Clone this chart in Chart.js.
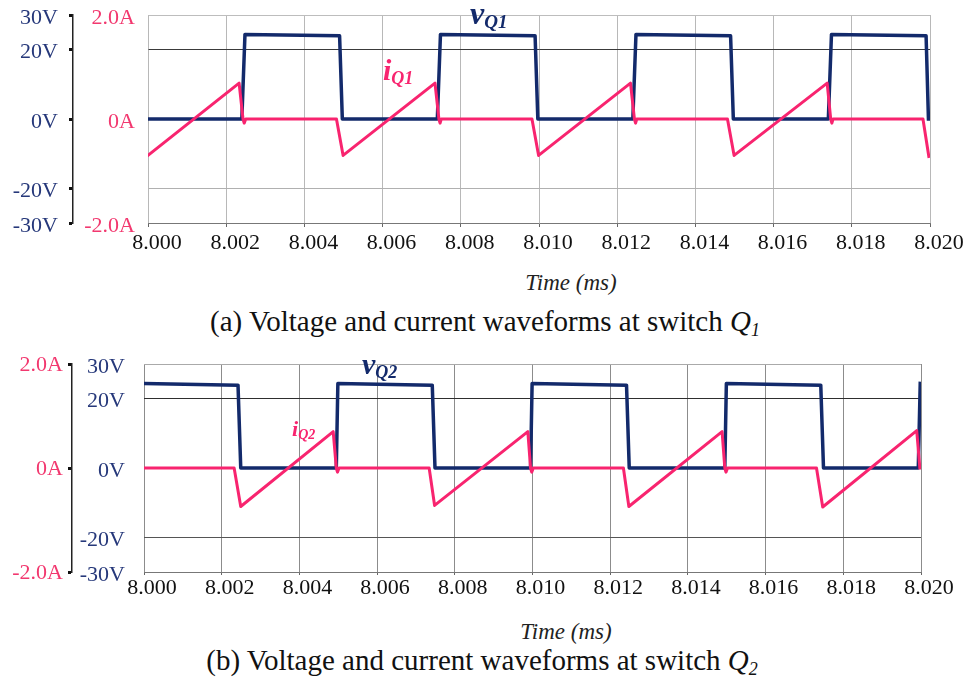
<!DOCTYPE html>
<html>
<head>
<meta charset="utf-8">
<script src="https://cdn.jsdelivr.net/npm/chart.js@4.4.0/dist/chart.umd.min.js"></script>
<style>
    body { margin: 0; background: #fff; }
    #page { position: relative; width: 969px; height: 681px; background: #fff; overflow: hidden; font-family: 'Liberation Serif', 'Times New Roman', serif; }
    canvas { position: absolute; left: 0; }
    .txt { position: absolute; white-space: nowrap; line-height: 1; transform: translate(-50%, -50%); color: #111; font-family: 'Liberation Serif', serif; }
    .axis-title { font-size: 23px; font-style: italic; color: #222; }
    .caption { font-size: 29px; color: #111; }
    .caption sub { font-size: 18px; vertical-align: -5px; }
    .series { position: absolute; white-space: nowrap; line-height: 1; font-weight: bold; font-style: italic; font-family: 'Liberation Serif', serif; }
    .series sub { vertical-align: -4px; }
</style>
</head>
<body>
<div id="page">
    <canvas id="chartQ1" width="969" height="260" style="top:0px"></canvas>
    <canvas id="chartQ2" width="969" height="260" style="top:340px"></canvas>

    <div class="series" style="left:470px; top:-3px; color:#132a6b; font-size:32px;">v<sub style="font-size:19px;">Q1</sub></div>
    <div class="series" style="left:383px; top:55px; color:#f8246f; font-size:30px;">i<sub style="font-size:18px;">Q1</sub></div>
    <div class="series" style="left:362px; top:349px; color:#132a6b; font-size:30px;">v<sub style="font-size:18px;">Q2</sub></div>
    <div class="series" style="left:292px; top:418px; color:#f8246f; font-size:22px;">i<sub style="font-size:14px; vertical-align:-3px;">Q2</sub></div>

    <div class="txt axis-title" style="left:571px; top:282px;">Time (ms)</div>
    <div class="txt caption" style="left:485px; top:323px;">(a) Voltage and current waveforms at switch <i>Q<sub>1</sub></i></div>
    <div class="txt axis-title" style="left:566px; top:631px;">Time (ms)</div>
    <div class="txt caption" style="left:482px; top:662px;">(b) Voltage and current waveforms at switch <i>Q<sub>2</sub></i></div>
</div>

<script>
// Axis ticks
const timeTicks = [8.000, 8.002, 8.004, 8.006, 8.008, 8.010, 8.012, 8.014, 8.016, 8.018, 8.020];
const voltTicks = [-30, -20, 0, 20, 30];
const ampTicks = [-2, 0, 2];

// Switch Q1 waveforms (time in ms)
const vQ1Time = [8.0000, 8.0024, 8.00248, 8.0049, 8.00497, 8.0074, 8.00748, 8.0099, 8.00997,
    8.0124, 8.01248, 8.0149, 8.01497, 8.0174, 8.01748, 8.0199, 8.01996];
const vQ1Volts = [0, 0, 24.4, 24.0, 0, 0, 24.4, 24.0, 0,
    0, 24.4, 24.0, 0, 0, 24.4, 24.0, 0];

const iQ1Time = [8.0000, 8.00233, 8.00243, 8.00246, 8.0025, 8.00482, 8.00499,
    8.00734, 8.00744, 8.00747, 8.0075, 8.00982, 8.00999,
    8.01234, 8.01244, 8.01247, 8.0125, 8.01482, 8.01499,
    8.01737, 8.01746, 8.01749, 8.01752, 8.01982, 8.01997];
const iQ1Amps = [-0.70, 0.69, 0.0, -0.08, 0.0, 0.0, -0.70,
    0.69, 0.0, -0.08, 0.0, 0.0, -0.70,
    0.69, 0.0, -0.08, 0.0, 0.0, -0.70,
    0.69, 0.0, -0.08, 0.0, 0.0, -0.72];

// Switch Q2 waveforms
const vQ2Time = [8.0000, 8.00242, 8.00249, 8.00495, 8.00499, 8.00742, 8.00749, 8.00995, 8.00999,
    8.01242, 8.01249, 8.01495, 8.01499, 8.01742, 8.01749, 8.01993, 8.01998];
const vQ2Volts = [24.4, 23.9, 0, 0, 24.4, 23.9, 0, 0, 24.4,
    23.9, 0, 0, 24.4, 23.9, 0, 0, 24.4];

const iQ2Time = [8.0000, 8.00232, 8.00249, 8.00487, 8.00495, 8.00498, 8.00502,
    8.00734, 8.00748, 8.00988, 8.00995, 8.00998, 8.01002,
    8.01234, 8.01248, 8.01488, 8.01495, 8.01498, 8.01502,
    8.01731, 8.01747, 8.01989, 8.01997];
const iQ2Amps = [0.0, 0.0, -0.74, 0.70, 0.0, -0.08, 0.0,
    0.0, -0.72, 0.70, 0.0, -0.08, 0.0,
    0.0, -0.74, 0.70, 0.0, -0.08, 0.0,
    0.0, -0.75, 0.72, 0.0];

// Colours
const NAVY = '#132a6b';
const PINK = '#f8246f';
const NAVY_TEXT = '#26387a';
const PINK_TEXT = '#f2386f';
const SERIF = "'Liberation Serif', 'Times New Roman', serif";
const TICK_FONT = { family: SERIF, size: 22 };

function toPoints(times, values) {
    return times.map((t, i) => ({ x: t, y: values[i] }));
}

function setTicks(list) {
    return scale => { scale.ticks = list.map(v => ({ value: v })); };
}

// fixed axis width, and no extra room asked for the end labels
function fixWidth(w) {
    return scale => {
        scale.width = w;
        scale.paddingTop = 0;
        scale.paddingBottom = 0;
    };
}

function voltLabel(v) { return v + 'V'; }
function ampLabel(v) { return v === 0 ? '0A' : v.toFixed(1) + 'A'; }

function lineDataset(points, color, axis, width) {
    return {
        data: points,
        borderColor: color,
        backgroundColor: color,
        borderWidth: width,
        pointRadius: 0,
        tension: 0,
        fill: false,
        yAxisID: axis,
        borderJoinStyle: 'round'
    };
}

function xScale(opts) {
    return {
        type: 'linear',
        min: 8.000,
        max: 8.020,
        afterBuildTicks: setTicks(timeTicks),
        afterFit: scale => { scale.height = opts.height; },
        ticks: {
            callback: v => v.toFixed(3),
            font: TICK_FONT,
            color: '#111',
            labelOffset: opts.labelOffset,
            padding: opts.padding,
            maxRotation: 0,
            autoSkip: false
        },
        grid: { color: opts.gridColor, tickColor: '#666', tickLength: opts.tickLength, lineWidth: 1 },
        border: { color: '#777', width: 1 }
    };
}

// Horizontal grid colour per voltage level
function voltGrid(colors) {
    return ctx => {
        const v = ctx.tick ? ctx.tick.value : null;
        if (v === 20) return colors.upper;
        if (v === -20) return colors.lower;
        if (v === 30) return colors.top;
        return 'rgba(0,0,0,0)';
    };
}

const baseOptions = {
    responsive: false,
    animation: false,
    devicePixelRatio: 1,
    plugins: { legend: { display: false }, tooltip: { enabled: false } },
    elements: { line: { borderCapStyle: 'square' } }
};

function drawCharts() {
    Chart.defaults.font.family = SERIF;

    // Chart (a): voltage axis outside, current axis inside
    new Chart(document.getElementById('chartQ1'), {
        type: 'line',
        data: {
            datasets: [
                lineDataset(toPoints(iQ1Time, iQ1Amps), PINK, 'amp', 3),
                lineDataset(toPoints(vQ1Time, vQ1Volts), NAVY, 'volt', 3.5)
            ]
        },
        options: {
            ...baseOptions,
            layout: { padding: { top: 15, right: 39, left: 0, bottom: 0 } },
            scales: {
                x: xScale({ height: 37, labelOffset: 9, padding: 3, tickLength: 4, gridColor: '#b8b8b8' }),
                volt: {
                    position: 'left',
                    weight: 2,
                    min: -30,
                    max: 30,
                    afterBuildTicks: setTicks(voltTicks),
                    afterFit: fixWidth(73),
                    ticks: { callback: voltLabel, font: TICK_FONT, color: NAVY_TEXT, padding: 11, labelOffset: 3 },
                    grid: {
                        color: voltGrid({ upper: '#3a3a3a', lower: '#b0b0b0', top: '#bdbdbd' }),
                        tickColor: '#111',
                        tickLength: 4,
                        tickWidth: 3
                    },
                    border: { display: true, color: '#222', width: 1.5 }
                },
                amp: {
                    position: 'left',
                    weight: 1,
                    min: -2,
                    max: 2,
                    afterBuildTicks: setTicks(ampTicks),
                    afterFit: fixWidth(75),
                    ticks: { callback: ampLabel, font: TICK_FONT, color: PINK_TEXT, padding: 13, labelOffset: 3 },
                    grid: { display: false, drawTicks: false },
                    border: { display: false }
                }
            }
        }
    });

    // Chart (b): current axis outside, voltage axis inside
    new Chart(document.getElementById('chartQ2'), {
        type: 'line',
        data: {
            datasets: [
                lineDataset(toPoints(iQ2Time, iQ2Amps), PINK, 'amp', 3),
                lineDataset(toPoints(vQ2Time, vQ2Volts), NAVY, 'volt', 3.5)
            ]
        },
        options: {
            ...baseOptions,
            layout: { padding: { top: 24, right: 48, left: 0, bottom: 0 } },
            scales: {
                x: xScale({ height: 28, labelOffset: 8, padding: 0, tickLength: 3, gridColor: '#8c8c8c' }),
                amp: {
                    position: 'left',
                    weight: 2,
                    min: -2,
                    max: 2,
                    afterBuildTicks: setTicks(ampTicks),
                    afterFit: fixWidth(72),
                    ticks: { callback: ampLabel, font: TICK_FONT, color: PINK_TEXT, padding: 5, labelOffset: 1 },
                    grid: { drawOnChartArea: false, tickColor: '#111', tickLength: 4, tickWidth: 3 },
                    border: { display: true, color: '#222', width: 1.5 }
                },
                volt: {
                    position: 'left',
                    weight: 1,
                    min: -30,
                    max: 30,
                    afterBuildTicks: setTicks(voltTicks),
                    afterFit: fixWidth(72),
                    ticks: { callback: voltLabel, font: TICK_FONT, color: NAVY_TEXT, padding: 19, labelOffset: 3 },
                    grid: {
                        color: voltGrid({ upper: '#2e2e2e', lower: '#555', top: '#aaa' }),
                        drawTicks: false
                    },
                    border: { display: false }
                }
            }
        }
    });
}

// wait for the serif face so the canvas text does not fall back
Promise.all([
    document.fonts.load("22px 'Liberation Serif'"),
    document.fonts.load("italic 22px 'Liberation Serif'"),
    document.fonts.load("bold italic 22px 'Liberation Serif'")
]).then(drawCharts, drawCharts);
</script>
</body>
</html>
